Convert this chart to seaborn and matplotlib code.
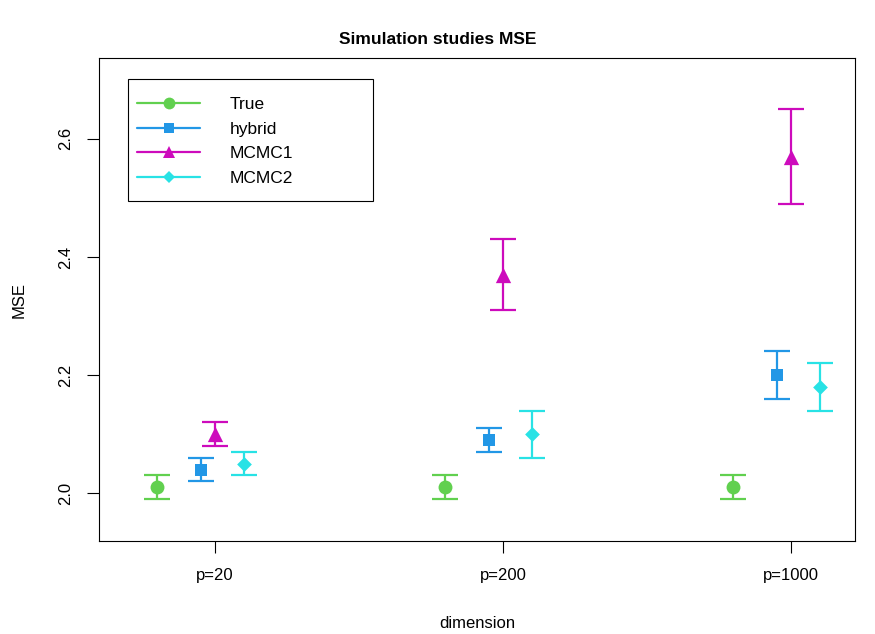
import numpy as np
import pandas as pd
import matplotlib
matplotlib.use('Agg')
import matplotlib.pyplot as plt
from matplotlib.lines import Line2D
from matplotlib.patches import Rectangle
import seaborn as sns

dims = ['p=20', 'p=200', 'p=1000']
methods = ['True', 'hybrid', 'MCMC1', 'MCMC2']

mse_true = [2.01, 2.01, 2.01]
mse_hybrid = [2.04, 2.09, 2.20]
mse_mcmc1 = [2.10, 2.37, 2.57]
mse_mcmc2 = [2.05, 2.10, 2.18]

lo_true = [1.99, 1.99, 1.99]
hi_true = [2.03, 2.03, 2.03]
lo_hybrid = [2.02, 2.07, 2.16]
hi_hybrid = [2.06, 2.11, 2.24]
lo_mcmc1 = [2.08, 2.31, 2.49]
hi_mcmc1 = [2.12, 2.43, 2.65]
lo_mcmc2 = [2.03, 2.06, 2.14]
hi_mcmc2 = [2.07, 2.14, 2.22]

colors = ['#61D04F', '#2297E6', '#CD0BBC', '#28E2E5']
markers = ['o', 's', '^', 'D']
msizes = [10, 9, 11, 7.5]
offsets = [-0.2, -0.05, 0.0, 0.1]

rows = []
for m, mid, lo, hi in zip(methods,
                          [mse_true, mse_hybrid, mse_mcmc1, mse_mcmc2],
                          [lo_true, lo_hybrid, lo_mcmc1, lo_mcmc2],
                          [hi_true, hi_hybrid, hi_mcmc1, hi_mcmc2]):
    for i, d in enumerate(dims):
        rows.append({'method': m, 'dim': d, 'pos': i + 1, 'mse': mid[i], 'lo': lo[i], 'hi': hi[i]})
df = pd.DataFrame(rows)

sns.set_style('ticks')
plt.rcParams['font.family'] = ['Liberation Sans', 'DejaVu Sans']
plt.rcParams['text.color'] = 'black'
plt.rcParams['axes.labelcolor'] = 'black'
plt.rcParams['xtick.color'] = 'black'
plt.rcParams['ytick.color'] = 'black'

fig = plt.figure(figsize=(8.75, 6.34), dpi=100)
ax = fig.add_axes([99/875, 93/634, 756/875, 483/634])

for m, c, mk, ms, off in zip(methods, colors, markers, msizes, offsets):
    sub = df[df['method'] == m]
    x = sub['pos'] + off
    ax.errorbar(x, sub['mse'], yerr=[sub['mse'] - sub['lo'], sub['hi'] - sub['mse']],
                fmt='none', ecolor=c, elinewidth=1.6, capsize=9.5, capthick=1.6)
    sns.scatterplot(x=x, y=sub['mse'], color=c, marker=mk, s=ms**2, edgecolor=c,
                    linewidth=0, ax=ax, zorder=3)

ax.set_xlim(0.597, 3.222)
ax.set_ylim(1.919, 2.737)
ax.set_xticks([1, 2, 3])
ax.set_xticklabels(dims, fontsize=12)
ax.set_yticks([2.0, 2.2, 2.4, 2.6])
ax.set_yticklabels(['2.0', '2.2', '2.4', '2.6'], fontsize=12, rotation=90, va='center')
ax.tick_params(axis='both', direction='out', length=8.5, width=0.8, color='black')
ax.tick_params(axis='x', pad=11)
ax.tick_params(axis='y', pad=10)
for s in ax.spines.values():
    s.set_color('black')
    s.set_linewidth(0.8)

ax.set_xlabel('dimension', fontsize=12, labelpad=24)
ax.set_ylabel('MSE', fontsize=12, labelpad=23)
fig.text(0.5, 1 - 40/634, 'Simulation studies MSE', fontsize=12.5, fontweight='bold',
         ha='center', va='center')

# legend box drawn separately so the padding can match the R layout
ax.add_patch(Rectangle((0.0384, 0.704), 0.324, 0.2526, transform=ax.transAxes,
                       facecolor='white', edgecolor='black', linewidth=0.8, zorder=4))
handles = [Line2D([0], [0], color=c, lw=1.6, marker=mk, markersize=ms * 0.85, markeredgewidth=0)
           for c, mk, ms in zip(colors, markers, msizes)]
leg = ax.legend(handles, methods, loc='upper left', bbox_to_anchor=(0.0503, 0.919),
                fontsize=12.5, frameon=False, handlelength=3.63,
                handletextpad=1.73, borderpad=0, labelspacing=0.54, borderaxespad=0)
leg.set_zorder(5)

fig.savefig('out.png', dpi=100)
